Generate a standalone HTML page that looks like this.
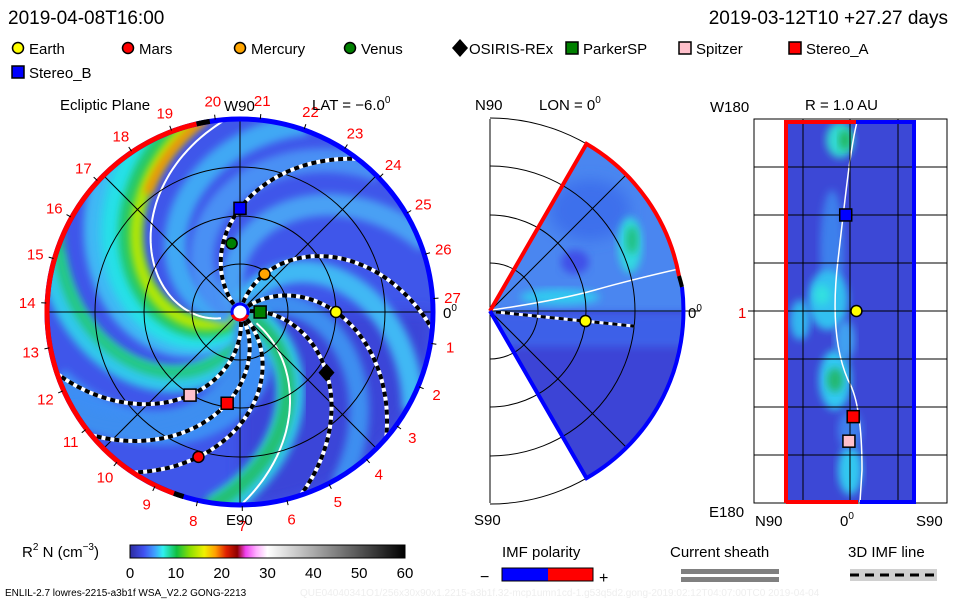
<!DOCTYPE html>
<html><head><meta charset="utf-8"><style>
html,body{margin:0;padding:0;background:#fff;}
svg{display:block;font-family:"Liberation Sans",sans-serif;}
</style></head><body>
<svg id="s" width="960" height="600" viewBox="0 0 960 600" xmlns="http://www.w3.org/2000/svg">
<defs>
<filter id="bl" x="-20%" y="-20%" width="140%" height="140%"><feGaussianBlur stdDeviation="4"/></filter>
<filter id="bl2" x="-50%" y="-50%" width="200%" height="200%"><feGaussianBlur stdDeviation="7"/></filter>
<clipPath id="diskClip"><circle cx="240" cy="312" r="193"/></clipPath>
<clipPath id="wedgeClip"><path d="M490,311 L586.5,143.9 A193,193 0 0 1 586.5,478.1 Z"/></clipPath>
<clipPath id="bandClip"><rect x="786" y="122" width="128" height="380"/></clipPath>
<linearGradient id="cbar" x1="0" x2="1" y1="0" y2="0">
<stop offset="0" stop-color="#2c2ca0"/><stop offset="0.05" stop-color="#4050f0"/><stop offset="0.09" stop-color="#40a0ff"/>
<stop offset="0.12" stop-color="#30f0f0"/><stop offset="0.17" stop-color="#10c040"/><stop offset="0.22" stop-color="#90e000"/>
<stop offset="0.27" stop-color="#f0f000"/><stop offset="0.31" stop-color="#ffa000"/><stop offset="0.35" stop-color="#e02000"/>
<stop offset="0.39" stop-color="#900000"/><stop offset="0.42" stop-color="#f040f0"/><stop offset="0.46" stop-color="#ffb0ff"/>
<stop offset="0.5" stop-color="#ffffff"/><stop offset="1" stop-color="#000000"/>
</linearGradient>
</defs>

<text x="8" y="24" font-size="19" fill="#000">2019-04-08T16:00</text>
<text x="948" y="24" font-size="19" fill="#000" text-anchor="end">2019-03-12T10 +27.27 days</text>
<g id="legend" font-size="15"></g>

<g id="ecl"></g>
<text x="60" y="110" font-size="15">Ecliptic Plane</text>
<text x="224" y="111" font-size="15">W90</text>
<text x="312" y="110" font-size="15">LAT = −6.0<tspan font-size="10" dy="-7">0</tspan></text>
<text x="226" y="525" font-size="15">E90</text>
<text x="443" y="318" font-size="15">0<tspan font-size="10" dy="-7">0</tspan></text>

<g id="mer"></g>
<text x="475" y="110" font-size="15">N90</text>
<text x="539" y="110" font-size="15">LON = 0<tspan font-size="10" dy="-7">0</tspan></text>
<text x="688" y="318" font-size="15">0<tspan font-size="10" dy="-7">0</tspan></text>
<text x="474" y="525" font-size="15">S90</text>

<g id="sph"></g>
<text x="710" y="112" font-size="15">W180</text>
<text x="805" y="110" font-size="15">R = 1.0 AU</text>
<text x="738" y="318" font-size="15" fill="#e00">1</text>
<text x="709" y="517" font-size="15">E180</text>
<text x="755" y="526" font-size="15">N90</text>
<text x="840" y="526" font-size="15">0<tspan font-size="10" dy="-7">0</tspan></text>
<text x="916" y="526" font-size="15">S90</text>

<text x="22" y="557" font-size="15">R<tspan font-size="10" dy="-7">2</tspan><tspan dy="7"> N (cm</tspan><tspan font-size="10" dy="-7">−3</tspan><tspan dy="7">)</tspan></text>
<rect x="130" y="545" width="275" height="13" fill="url(#cbar)" stroke="#000" stroke-width="1"/>
<g id="cbticks" font-size="15"></g>
<text x="502" y="557" font-size="15">IMF polarity</text>
<text x="480" y="582" font-size="16">−</text>
<rect x="502" y="568" width="46" height="13" fill="#0000ff"/>
<rect x="548" y="568" width="45" height="13" fill="#ff0000"/>
<rect x="502" y="568" width="91" height="13" fill="none" stroke="#000"/>
<text x="599" y="583" font-size="16">+</text>
<text x="670" y="557" font-size="15">Current sheath</text>
<rect x="681" y="569" width="98" height="5" fill="#808080"/>
<rect x="681" y="577" width="98" height="5" fill="#808080"/>
<text x="848" y="557" font-size="15">3D IMF line</text>
<rect x="850" y="569" width="87" height="12" fill="#d0d0d0"/>
<line x1="850" y1="575" x2="937" y2="575" stroke="#000" stroke-width="3" stroke-dasharray="9,6"/>
<text x="5" y="596" font-size="10">ENLIL-2.7 lowres-2215-a3b1f WSA_V2.2 GONG-2213</text>
<text x="300" y="596" font-size="10" fill="#eeeeee">QUE04040341O1/256x30x90x1.2215-a3b1f.32-mcp1umn1cd-1.g53q5d2.gong-2019:02:12T04:07:00TC0    2019-04-04</text>
</svg>
<script>
var NS="http://www.w3.org/2000/svg";
function mk(tag,attrs,parent){var e=document.createElementNS(NS,tag);for(var k in attrs)e.setAttribute(k,attrs[k]);parent.appendChild(e);return e;}

var bodyNames=["Earth","Mars","Mercury","Venus","OSIRIS-REx","ParkerSP","Spitzer","Stereo_A","Stereo_B"];
var bodyR=[1.00,1.57,0.47,0.72,1.10,0.21,1.01,0.96,1.08];
var bodyLon=[0,-106,57,97,-35,0,-121,-98,90];
var bodyColor=["#ffff00","#ff0000","#ffa500","#008000","#000000","#008000","#ffc0cb","#ff0000","#0000ff"];
var bodyShape=["c","c","c","c","d","s","s","s","s"];
var legendX=[18,128,240,350,460,572,685,795,18];
var legendRow=[0,0,0,0,0,0,0,0,1];
var fieldLineBodies=[0,2,8,4,7,6,1];
var carrLabels=[27,1,2,3,4,5,6,7,8,9,10,11,12,13,14,15,16,17,18,19,20,21,22,23,24,25,26];
var cbTicks=[0,10,20,30,40,50,60];
var rTickLat=[-6];
var sphBodies=[8,0,7,6];
var sphLon=[90,0,-99,-122];
var sphLat=[-4,6,3,-1];

var CX=240,CY=312,PX=96,RMAX=193,K=0.42;
function ex(r,a){return CX+r*Math.cos(a*Math.PI/180);}
function ey(r,a){return CY-r*Math.sin(a*Math.PI/180);}

function marker(shape,color,x,y,parent,name){
  var e;
  if(shape=="c"){e=mk("circle",{cx:x,cy:y,r:5.5,fill:color,stroke:"#000","stroke-width":1.5},parent);}
  else if(shape=="s"){e=mk("rect",{x:x-6,y:y-6,width:12,height:12,fill:color,stroke:"#000","stroke-width":1.5},parent);}
  else {e=mk("path",{d:"M"+x+","+(y-9)+"L"+(x+8)+","+y+"L"+x+","+(y+9)+"L"+(x-8)+","+y+"Z",fill:color},parent);}
  
  
  return e;
}

var lg=document.getElementById("legend");
for(var i=0;i<bodyNames.length;i++){
  var ly=48+legendRow[i]*24;
  marker(bodyShape[i],bodyColor[i],legendX[i],ly,lg,"legend-marker-"+bodyNames[i].toLowerCase());
  var t=mk("text",{x:legendX[i]+(bodyShape[i]=="d"?9:11),y:ly+6},lg);
  t.textContent=bodyNames[i];
  
  
}

var eg=document.getElementById("ecl");
var dg=mk("g",{"clip-path":"url(#diskClip)"},eg);
mk("circle",{cx:CX,cy:CY,r:RMAX,fill:"#3f56ea"},dg);
mk("path",{d:"M"+CX+","+CY+" L433,312 A193,193 0 0 1 240,505 Z",fill:"#3a44d8",filter:"url(#bl2)"},dg);
function spiralPath(t0,k,r0,r1){var d="";for(var r=r0;r<=r1;r+=3){var a=t0-k*r;d+=(r==r0?"M":"L")+ex(r,a).toFixed(1)+","+ey(r,a).toFixed(1);}return d;}
var bands=[[320,0.6,"#3c8ef4",34],[282,0.6,"#30c8ec",26],[276,0.6,"#20c880",12],[250,0.6,"#40b8f4",24],[236,0.6,"#28e0e8",30],[226,0.6,"#20c868",22],[221,0.6,"#b8e800",12],
           [190,0.6,"#40a8f4",22],[165,0.6,"#4a90f4",24],[120,0.5,"#48a0f4",22],[70,0.5,"#40b8f4",22],[30,0.45,"#3c8ef0",20],
           [-22,0.38,"#30c8e8",28],[-24,0.38,"#20c070",14],[-70,0.4,"#3c8ef0",20]];
for(var i=0;i<bands.length;i++){
  var b=mk("path",{d:spiralPath(bands[i][0],bands[i][1],10,200),fill:"none",stroke:bands[i][2],"stroke-width":bands[i][3],filter:"url(#bl)"},dg);
  
  
}
var ob=mk("path",{d:spiralPath(218,0.6,150,200),fill:"none",stroke:"#ff8c00","stroke-width":8,filter:"url(#bl)"},dg);


mk("path",{d:spiralPath(210,0.6,20,200),fill:"none",stroke:"#fff","stroke-width":2},dg);
mk("path",{d:spiralPath(-28,0.32,20,200),fill:"none",stroke:"#fff","stroke-width":2},dg);
[48,96,145].forEach(function(r){mk("circle",{cx:CX,cy:CY,r:r,fill:"none",stroke:"#000","stroke-width":1},dg);});
[0,45,90,135].forEach(function(a){mk("line",{x1:ex(RMAX,a),y1:ey(RMAX,a),x2:ex(RMAX,a+180),y2:ey(RMAX,a+180),stroke:"#000","stroke-width":1},dg);});
for(var j=0;j<fieldLineBodies.length;j++){
  var bi=fieldLineBodies[j];var t0=bodyLon[bi]+K*bodyR[bi]*PX;var d=spiralPath(t0,K,10,199);
  mk("path",{d:d,fill:"none",stroke:"#fff","stroke-width":4},dg);
  var fl=mk("path",{d:d,fill:"none",stroke:"#000","stroke-width":4,"stroke-dasharray":"5,4"},dg);
  
  
}
function arc(r,a1,a2){var large=Math.abs(a2-a1)>180?1:0;return "M"+ex(r,a1)+","+ey(r,a1)+" A"+r+","+r+" 0 "+large+" 0 "+ex(r,a2)+","+ey(r,a2);}
mk("circle",{cx:CX,cy:CY,r:RMAX,fill:"none",stroke:"#0000ff","stroke-width":5},eg);
var ra=mk("path",{d:arc(RMAX,103,250),fill:"none",stroke:"#ff0000","stroke-width":5},eg);


mk("path",{d:arc(RMAX,99,103),fill:"none",stroke:"#000","stroke-width":5},eg);
mk("path",{d:arc(RMAX,250,253),fill:"none",stroke:"#000","stroke-width":5},eg);
mk("circle",{cx:CX,cy:CY,r:8,fill:"#fff",stroke:"#0000ff","stroke-width":3},eg);
mk("path",{d:arc(8,200,340),fill:"none",stroke:"#ff0000","stroke-width":3},eg);
for(var i=0;i<carrLabels.length;i++){
  var a=4-i*360/27;
  mk("line",{x1:ex(194,a),y1:ey(194,a),x2:ex(199,a),y2:ey(199,a),stroke:"#000"},eg);
  var t=mk("text",{x:ex(213,a),y:ey(213,a)+6,"font-size":15,fill:"#ff0000","text-anchor":"middle"},eg);
  t.textContent=carrLabels[i];
  
  
}
for(var i=0;i<bodyNames.length;i++){
  var r=bodyR[i]*PX;marker(bodyShape[i],bodyColor[i],ex(r,bodyLon[i]),ey(r,bodyLon[i]),eg,"body-"+bodyNames[i].toLowerCase());
}

var mg=document.getElementById("mer");
var MX=490,MY=311;
mk("line",{x1:490,y1:119,x2:490,y2:503,stroke:"#000"},mg);
[48,96,145,193].forEach(function(r){mk("path",{d:"M"+MX+","+(MY-r)+" A"+r+","+r+" 0 0 1 "+MX+","+(MY+r),fill:"none",stroke:"#000"},mg);});
var wg=mk("g",{"clip-path":"url(#wedgeClip)"},mg);
mk("rect",{x:490,y:120,width:200,height:192,fill:"#4a86f0"},wg);
mk("rect",{x:490,y:312,width:200,height:192,fill:"#3c44d6"},wg);
mk("rect",{x:490,y:312,width:200,height:35,fill:"#3c60e8",filter:"url(#bl)"},wg);
mk("ellipse",{cx:590,cy:210,rx:40,ry:30,fill:"#3c70ec",filter:"url(#bl2)"},wg);
mk("ellipse",{cx:630,cy:245,rx:12,ry:28,fill:"#30d8e0",filter:"url(#bl)"},wg);
mk("ellipse",{cx:632,cy:240,rx:6,ry:14,fill:"#20c080",filter:"url(#bl)"},wg);
mk("ellipse",{cx:560,cy:297,rx:40,ry:8,fill:"#30c8f0",filter:"url(#bl)"},wg);
mk("ellipse",{cx:575,cy:262,rx:14,ry:12,fill:"#4050e8",filter:"url(#bl)"},wg);
mk("path",{d:"M492,310 Q560,300 595,290 T683,268",fill:"none",stroke:"#fff","stroke-width":1.5},wg);
[-45,0,45].forEach(function(a){mk("line",{x1:MX,y1:MY,x2:MX+193*Math.cos(a*Math.PI/180),y2:MY-193*Math.sin(a*Math.PI/180),stroke:"#000"},wg);});
mk("line",{x1:683,y1:311,x2:700,y2:311,stroke:"#000"},mg);
[48,96,145].forEach(function(r){mk("path",{d:"M"+MX+","+(MY-r)+" A"+r+","+r+" 0 0 1 "+MX+","+(MY+r),fill:"none",stroke:"#000"},wg);});
var ea=rTickLat[0]*Math.PI/180;
mk("line",{x1:MX+6,y1:MY+1,x2:MX+145*Math.cos(ea),y2:MY-145*Math.sin(ea),stroke:"#fff","stroke-width":3},mg);
mk("line",{x1:MX+6,y1:MY+1,x2:MX+145*Math.cos(ea),y2:MY-145*Math.sin(ea),stroke:"#000","stroke-width":3,"stroke-dasharray":"5,4"},mg);
mk("path",{d:"M490,311 L586.5,143.9 A193,193 0 0 1 679,276",fill:"none",stroke:"#ff0000","stroke-width":4},mg);
mk("path",{d:"M490,311 L586.5,478.1 A193,193 0 0 0 682,287",fill:"none",stroke:"#0000ff","stroke-width":4},mg);
mk("path",{d:"M679,276 A193,193 0 0 1 682,287",fill:"none",stroke:"#000","stroke-width":4},mg);
marker("c","#ffff00",MX+96*Math.cos(ea),MY-96*Math.sin(ea),mg,"meridional-earth");

var sg=document.getElementById("sph");
mk("rect",{x:754,y:119,width:193,height:384,fill:"#fff",stroke:"#000"},sg);
var bg=mk("g",{"clip-path":"url(#bandClip)"},sg);
mk("rect",{x:786,y:120,width:128,height:384,fill:"#3c48d6"},bg);
var blobs=[[840,140,14,18,"#30d8d0"],[845,140,6,10,"#20b860"],[832,250,12,60,"#3c80ec"],[828,300,20,30,"#30c0f0"],[822,295,8,10,"#30e0e0"],
 [835,380,16,30,"#30c8f0"],[835,380,8,12,"#20b870"],[850,470,12,25,"#30c8f0"],[800,320,10,20,"#30b8f0"],[845,340,10,20,"#40a0f0"],[850,430,12,20,"#3c80ec"]];
for(var i=0;i<blobs.length;i++){mk("ellipse",{cx:blobs[i][0],cy:blobs[i][1],rx:blobs[i][2],ry:blobs[i][3],fill:blobs[i][4],filter:"url(#bl)"},bg);}
mk("path",{d:"M857,122 C850,150 845,200 838,260 C832,310 835,350 848,380 C860,400 862,440 862,470 L860,502",fill:"none",stroke:"#fff","stroke-width":1.5},bg);
[167,215,263,311,359,407,455].forEach(function(y){mk("line",{x1:754,y1:y,x2:947,y2:y,stroke:"#000"},sg);});
[803,850,898].forEach(function(x){mk("line",{x1:x,y1:119,x2:x,y2:503,stroke:"#000"},sg);});
mk("line",{x1:748,y1:311,x2:754,y2:311,stroke:"#000"},sg);
mk("path",{d:"M786,503 L786,122 L856,122",fill:"none",stroke:"#ff0000","stroke-width":4},sg);
mk("path",{d:"M856,122 L914,122 L914,502 L860,502",fill:"none",stroke:"#0000ff","stroke-width":4},sg);
mk("line",{x1:786,y1:502,x2:858,y2:502,stroke:"#ff0000","stroke-width":4},sg);
for(var i=0;i<sphBodies.length;i++){
  var bi=sphBodies[i];
  marker(bodyShape[bi],bodyColor[bi],850+sphLat[i]*1.07,311-sphLon[i]*1.067,sg,"r1au-"+bodyNames[bi].toLowerCase());
}

var cg=document.getElementById("cbticks");
for(var i=0;i<cbTicks.length;i++){
  var x=130+cbTicks[i]/60*275;
  var t=mk("text",{x:x,y:578,"text-anchor":"middle"},cg);
  t.textContent=cbTicks[i];
  
  
}
</script>
</body></html>
